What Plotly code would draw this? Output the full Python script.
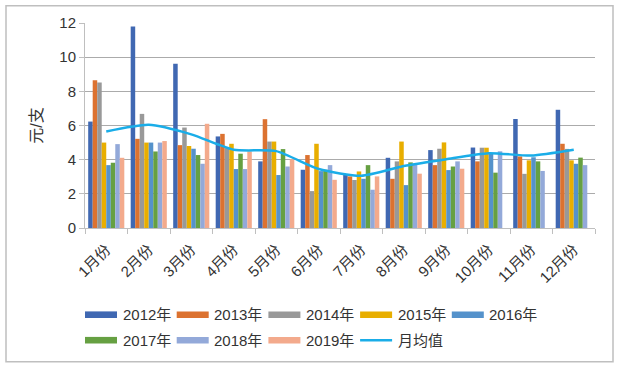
import plotly.graph_objects as go

months = ["1月份", "2月份", "3月份", "4月份", "5月份", "6月份",
          "7月份", "8月份", "9月份", "10月份", "11月份", "12月份"]

y2012 = [6.23, 11.79, 9.61, 5.36, 3.90, 3.41, 3.12, 4.11, 4.56, 4.71, 6.38, 6.92]
y2013 = [8.65, 5.22, 4.85, 5.51, 6.37, 4.27, 3.02, 2.88, 3.68, 3.90, 4.19, 4.93]
y2014 = [8.52, 6.68, 5.88, 4.68, 5.06, 2.16, 2.81, 3.90, 4.64, 4.70, 3.17, 4.63]
y2015 = [5.00, 5.00, 4.80, 4.93, 5.06, 4.93, 3.31, 5.06, 5.01, 4.70, 3.96, 3.96]
y2016 = [3.68, 5.00, 4.64, 3.45, 3.10, 3.33, 2.88, 2.51, 3.39, 4.37, 4.14, 3.76]
y2017 = [3.82, 4.48, 4.27, 4.35, 4.62, 3.41, 3.68, 3.84, 3.60, 3.24, 3.90, 4.12]
y2018 = [4.91, 5.00, 3.76, 3.45, 3.60, 3.68, 2.24, 3.76, 3.90, 4.49, 3.34, 3.68]
y2019 = [4.11, 5.09, 6.10, 4.48, 4.03, 2.82, 3.02, 3.18, 3.47, None, None, None]
avg = [5.65, 6.04, 5.48, 4.58, 4.50, 3.45, 3.06, 3.63, 4.03, 4.38, 4.24, 4.58]

series_names = ["2012年", "2013年", "2014年", "2015年", "2016年", "2017年", "2018年", "2019年"]
series_values = [y2012, y2013, y2014, y2015, y2016, y2017, y2018, y2019]
colors = ["#4068B2", "#DC7230", "#999999", "#E8AE00", "#5592CB", "#66A042", "#93A9D9", "#F3AA8C"]
line_name = "月均值"
line_color = "#1AADE8"

FONT = "Liberation Sans, Arial, Noto Sans CJK SC, sans-serif"
TXT = "#333333"

fig = go.Figure()
for name, vals, c in zip(series_names, series_values, colors):
    fig.add_trace(go.Bar(x=months, y=vals, name=name, marker=dict(color=c, line=dict(width=0)),
                         showlegend=False))
fig.add_trace(go.Scatter(x=months, y=avg, name=line_name, mode="lines",
                         line=dict(color=line_color, width=2.5, shape="spline", smoothing=0.6),
                         showlegend=False))

# plot area geometry (pixels)
L, R, T, B = 85, 25, 23.3, 140.7
W, H = 620, 369
pw = W - L - R
ph = H - T - B
y0px = H - B

def px2x(px):
    return (px - L) / pw

def px2y(py):
    return (y0px - py) / ph

shapes = []
annotations = []

# outer chart border
shapes.append(dict(type="rect", xref="paper", yref="paper",
                   x0=px2x(6), x1=px2x(613), y0=px2y(362), y1=px2y(6),
                   line=dict(color="#BFBFBF", width=1.5), fillcolor="rgba(0,0,0,0)", layer="below"))

# custom legend
entries = list(zip(series_names, colors, ["bar"] * len(series_names))) + [(line_name, line_color, "line")]
col_w = 91.7
row_y = [315.0, 340.5]
for i, (name, c, kind) in enumerate(entries):
    col, row = i % 5, i // 5
    sx = 85 + col * col_w
    cy = row_y[row]
    if kind == "bar":
        shapes.append(dict(type="rect", xref="paper", yref="paper",
                           x0=px2x(sx), x1=px2x(sx + 32), y0=px2y(cy + 3.3), y1=px2y(cy - 3.3),
                           line=dict(width=0), fillcolor=c))
    else:
        shapes.append(dict(type="line", xref="paper", yref="paper",
                           x0=px2x(sx), x1=px2x(sx + 32), y0=px2y(cy), y1=px2y(cy),
                           line=dict(color=c, width=2.5)))
    annotations.append(dict(xref="paper", yref="paper", x=px2x(sx + 35.5), y=px2y(cy),
                            xanchor="left", yanchor="middle", showarrow=False, text=name,
                            font=dict(family=FONT, size=15, color=TXT)))

fig.update_layout(
    width=W, height=H,
    margin=dict(l=L, r=R, t=T, b=B, pad=0),
    paper_bgcolor="white", plot_bgcolor="white",
    barmode="group", bargap=0.15, bargroupgap=0,
    font=dict(family=FONT, size=15, color=TXT),
    shapes=shapes, annotations=annotations,
    showlegend=False,
)
fig.update_xaxes(type="category", tickangle=-45, showline=True, linecolor="#BFBFBF", linewidth=1,
                 ticks="outside", ticklen=5, tickcolor="#BFBFBF", tickson="boundaries",
                 ticklabelstandoff=6,
                 showgrid=False, automargin=False, tickfont=dict(family=FONT, size=15, color=TXT))
fig.update_yaxes(range=[0, 12], dtick=2, showline=True, linecolor="#BFBFBF", linewidth=1,
                 ticks="outside", ticklen=5, tickcolor="#BFBFBF",
                 gridcolor="#ABABAB", gridwidth=1, zeroline=False, automargin=False,
                 tickfont=dict(family=FONT, size=15, color=TXT),
                 title=dict(text="元/支", font=dict(family=FONT, size=16, color=TXT), standoff=12))

fig.write_html("out.html", config={"displayModeBar": False},
               post_script="document.body.style.margin='0';")
